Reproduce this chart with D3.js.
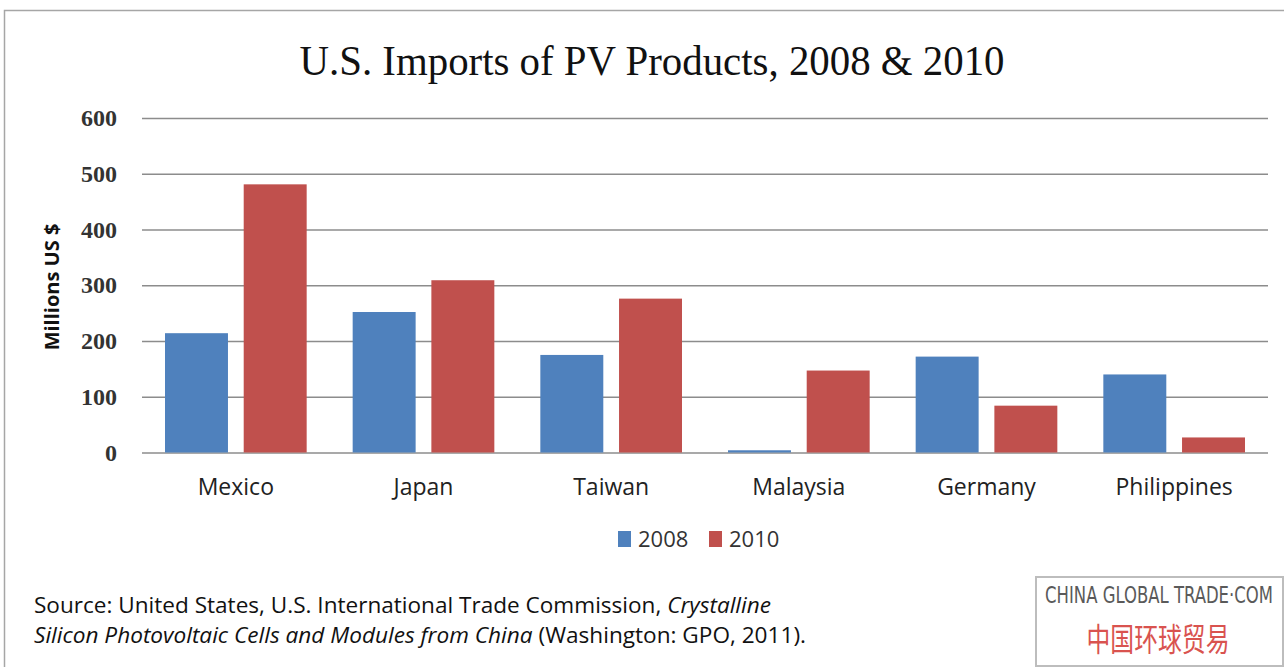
<!DOCTYPE html>
<html lang="en">
	<head>
		<meta charset="UTF-8" />
		<script src="https://d3js.org/d3.v7.min.js"></script>
		<title>U.S. Imports of PV Products</title>
		<style>
			body { margin: 0; background: #fff; }
			svg { display: block; }
		</style>
	</head>
	<body>
		<svg width="1284" height="667"></svg>
		<script>
			const countries = ["Mexico", "Japan", "Taiwan", "Malaysia", "Germany", "Philippines"];
			const years = ["2008", "2010"];
			const imports2008 = [214, 252, 175, 4, 172, 140];
			const imports2010 = [481, 309, 276, 147, 84, 27];
			const yTicks = [0, 100, 200, 300, 400, 500, 600];

			const colors = { "2008": "#4f81bd", "2010": "#c0504d" };
			const rows = countries.map((c, i) => ({ country: c, "2008": imports2008[i], "2010": imports2010[i] }));

			const svg = d3.select("svg");
			const plot = { left: 142, right: 1268, top: 118, bottom: 452.5 };

			// squeeze a text horizontally to a given width, keeping its height
			function fitWidth(sel, cx, cy, w) {
				const len = sel.node().getComputedTextLength();
				sel.attr("text-anchor", "middle")
					.attr("transform", `translate(${cx},${cy}) scale(${w / len},1)`);
			}

			// outer frame
			svg.append("rect")
				.attr("x", 4.5).attr("y", 10.5)
				.attr("width", 1290).attr("height", 670)
				.attr("fill", "none").attr("stroke", "#a6a6a6").attr("stroke-width", 1.5);

			svg.append("text")
				.attr("x", 652).attr("y", 75)
				.attr("text-anchor", "middle")
				.attr("font-family", "Liberation Serif, serif")
				.attr("font-size", 43)
				.attr("textLength", 705).attr("lengthAdjust", "spacingAndGlyphs")
				.attr("fill", "#111")
				.text("U.S. Imports of PV Products, 2008 & 2010");

			const y = d3.scaleLinear().domain([0, 600]).range([plot.bottom, plot.top]);
			const x0 = d3.scaleBand().domain(countries).range([plot.left, plot.right]);
			const pad = 23;
			const x1 = d3.scaleBand().domain(years).range([pad, x0.bandwidth() - pad]).paddingInner(0.2);

			// gridlines + tick labels
			const yAxis = svg.append("g")
				.attr("transform", `translate(${plot.left},0)`)
				.call(d3.axisLeft(y).tickValues(yTicks).tickSize(-(plot.right - plot.left)).tickPadding(25));
			yAxis.select(".domain").remove();
			yAxis.selectAll(".tick line").attr("stroke", "#8c8c8c").attr("stroke-width", 1.5);
			yAxis.selectAll(".tick text")
				.attr("font-family", "Liberation Serif, serif")
				.attr("font-weight", "bold")
				.attr("font-size", 24)
				.attr("fill", "#333");

			// bars
			svg.append("g").selectAll("g")
				.data(rows)
				.join("g")
				.attr("transform", d => `translate(${x0(d.country)},0)`)
				.selectAll("rect")
				.data(d => years.map(k => ({ key: k, value: d[k] })))
				.join("rect")
				.attr("x", d => x1(d.key))
				.attr("width", x1.bandwidth())
				.attr("y", d => y(d.value))
				.attr("height", d => y(0) - y(d.value))
				.attr("fill", d => colors[d.key]);

			// category labels
			const xAxis = svg.append("g")
				.attr("transform", `translate(0,${plot.bottom})`)
				.call(d3.axisBottom(x0).tickSize(0).tickPadding(26));
			xAxis.select(".domain").remove();
			xAxis.selectAll(".tick text")
				.attr("font-family", "Open Sans, sans-serif")
				.attr("font-size", 23)
				.attr("fill", "#222");

			svg.append("text")
				.attr("transform", "translate(59,287) rotate(-90)")
				.attr("text-anchor", "middle")
				.attr("font-family", "Open Sans, sans-serif")
				.attr("font-weight", "bold")
				.attr("font-size", 20)
				.attr("fill", "#111")
				.text("Millions US $");

			// legend
			const legend = svg.append("g").selectAll("g")
				.data(years)
				.join("g")
				.attr("transform", (d, i) => `translate(${618 + i * 91},531)`);
			legend.append("rect")
				.attr("width", 13).attr("height", 16)
				.attr("fill", d => colors[d]);
			legend.append("text")
				.attr("x", 20).attr("y", 16)
				.attr("font-family", "Open Sans, sans-serif")
				.attr("font-size", 22)
				.attr("fill", "#333")
				.text(d => d);

			// source note
			const src1 = svg.append("text")
				.attr("x", 34).attr("y", 613)
				.attr("font-family", "Open Sans, sans-serif")
				.attr("font-size", 21)
				.attr("fill", "#111")
				.attr("textLength", 737).attr("lengthAdjust", "spacingAndGlyphs");
			src1.append("tspan").text("Source: United States, U.S. International Trade Commission, ");
			src1.append("tspan").attr("font-style", "italic").text("Crystalline");

			const src2 = svg.append("text")
				.attr("x", 34).attr("y", 643)
				.attr("font-family", "Open Sans, sans-serif")
				.attr("font-size", 21)
				.attr("fill", "#111")
				.attr("textLength", 772).attr("lengthAdjust", "spacingAndGlyphs");
			src2.append("tspan").attr("font-style", "italic").text("Silicon Photovoltaic Cells and Modules from China");
			src2.append("tspan").text(" (Washington: GPO, 2011).");

			// logo box
			svg.append("rect")
				.attr("x", 1036).attr("y", 577)
				.attr("width", 247).attr("height", 89)
				.attr("fill", "#fff").attr("stroke", "#bdbdbd").attr("stroke-width", 2);
			const logoEn = svg.append("text")
				.attr("font-family", "Liberation Sans Narrow, DejaVu Sans Condensed, sans-serif")
				.attr("font-size", 23)
				.attr("fill", "#5a5a5a")
				.text("CHINA GLOBAL TRADE·COM");
			fitWidth(logoEn, 1159, 603, 228);
			const logoZh = svg.append("text")
				.attr("font-family", "Noto Sans CJK SC, sans-serif")
				.attr("font-size", 32)
				.attr("fill", "#d9534f")
				.text("中国环球贸易");
			fitWidth(logoZh, 1158, 651, 143);
		</script>
	</body>
</html>
